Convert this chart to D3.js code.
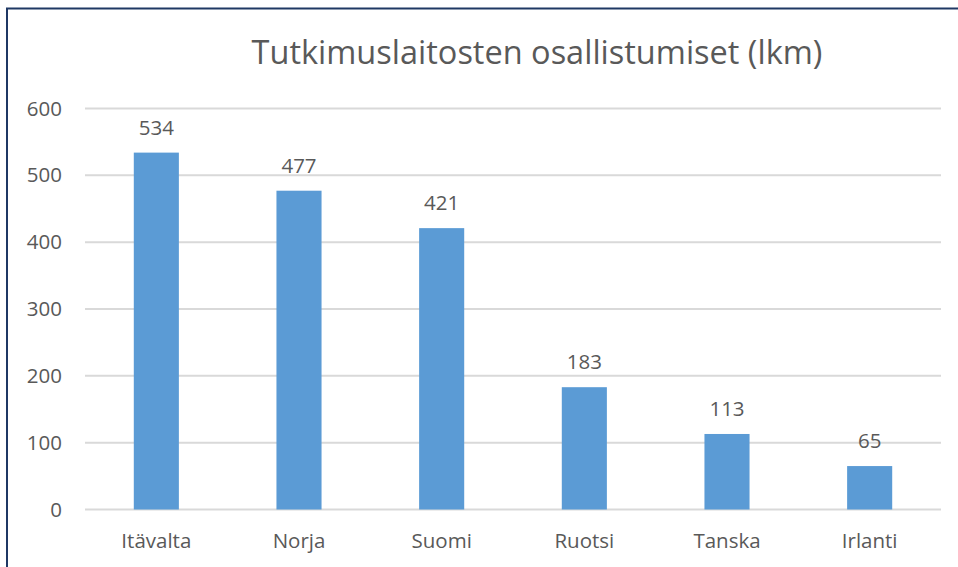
<!DOCTYPE html>
<html>
<head>
<meta charset="utf-8">
<script src="https://cdn.jsdelivr.net/npm/d3@7"></script>
<style>
  body { margin: 0; background: #fff; }
  svg { display: block; }
  text { font-family: "Open Sans", "Noto Sans", sans-serif; fill: #595959; }
</style>
</head>
<body>
<div id="chart"></div>
<script>
var categories = ["Itävalta", "Norja", "Suomi", "Ruotsi", "Tanska", "Irlanti"];
var values = [534, 477, 421, 183, 113, 65];
var yTicks = [0, 100, 200, 300, 400, 500, 600];
var title = "Tutkimuslaitosten osallistumiset (lkm)";

var width = 958, height = 567;
var margin = { top: 108.5, right: 17, bottom: 57.5, left: 85 };
var innerW = width - margin.left - margin.right,
  innerH = height - margin.top - margin.bottom;

var svg = d3.select("#chart")
  .append("svg")
  .attr("width", width)
  .attr("height", height);

// frame (only top and left edges show in the crop)
svg.append("path")
  .attr("d", "M7,567 V8.5 H958")
  .attr("fill", "none")
  .attr("stroke", "#1f3864")
  .attr("stroke-width", 2);

svg.append("text")
  .attr("x", 537)
  .attr("y", 64)
  .attr("text-anchor", "middle")
  .style("font-size", "32.5px")
  .text(title);

var g = svg.append("g")
  .attr("transform", "translate(" + margin.left + "," + margin.top + ")");

var x = d3.scaleBand()
  .domain(categories)
  .range([0, innerW])
  .paddingInner(0.684)
  .paddingOuter(0.342);

var y = d3.scaleLinear()
  .domain([0, 600])
  .range([innerH, 0]);

// gridlines
g.append("g")
  .selectAll("line")
  .data(yTicks)
  .join("line")
  .attr("x1", 0)
  .attr("x2", innerW)
  .attr("y1", d => y(d))
  .attr("y2", d => y(d))
  .attr("stroke", "#d9d9d9")
  .attr("stroke-width", 2);

var yAxis = g.append("g")
  .call(d3.axisLeft(y).tickValues(yTicks).tickSize(0).tickPadding(23));
yAxis.select(".domain").remove();
yAxis.selectAll("text")
  .style("font-size", "20.5px")
  .attr("fill", "#595959");

g.selectAll("rect.bar")
  .data(values)
  .join("rect")
  .attr("class", "bar")
  .attr("x", (d, i) => x(categories[i]))
  .attr("width", x.bandwidth())
  .attr("y", d => y(d))
  .attr("height", d => innerH - y(d))
  .attr("fill", "#5b9bd5");

g.selectAll("text.val")
  .data(values)
  .join("text")
  .attr("class", "val")
  .attr("x", (d, i) => x(categories[i]) + x.bandwidth() / 2)
  .attr("y", d => y(d) - 18)
  .attr("text-anchor", "middle")
  .style("font-size", "20.5px")
  .text(d => d);

var xAxis = g.append("g")
  .attr("transform", "translate(0," + innerH + ")")
  .call(d3.axisBottom(x).tickSize(0).tickPadding(24));
xAxis.select(".domain").remove();
xAxis.selectAll("text")
  .style("font-size", "20.5px")
  .attr("fill", "#595959");
</script>
</body>
</html>
